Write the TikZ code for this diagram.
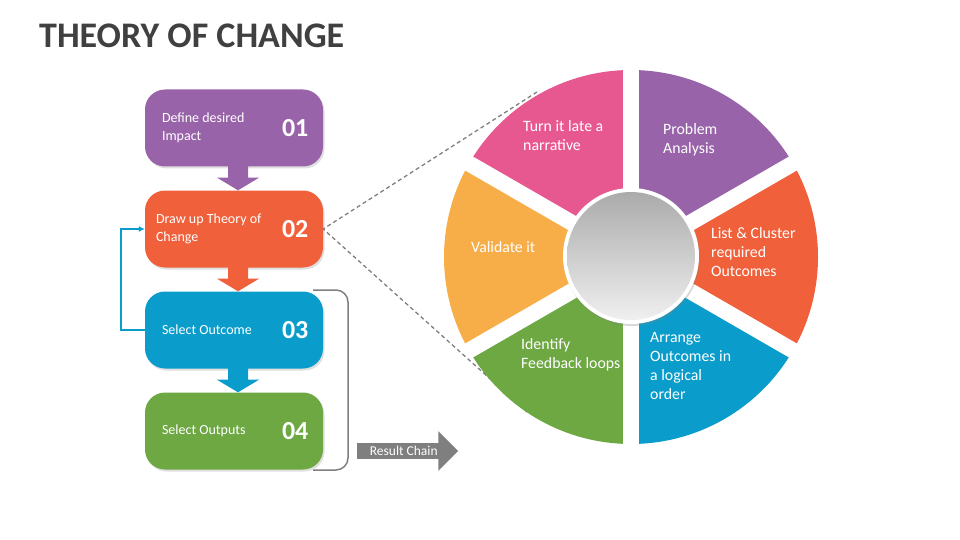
\documentclass[tikz,border=0pt]{standalone}
\usepackage{fontspec}
\setmainfont{Carlito}
\usepackage{tikz}
\usetikzlibrary{
  arrows.meta,
  calc,
  shadows,
  shapes.arrows,
}
\definecolor{tocPurple}{RGB}{152, 99, 168}
\definecolor{tocRed}{RGB}{240, 96, 59}
\definecolor{tocBlue}{RGB}{10, 157, 203}
\definecolor{tocGreen}{RGB}{109, 168, 67}
\definecolor{tocPink}{RGB}{232, 88, 144}
\definecolor{tocOrange}{RGB}{248, 174, 72}
\definecolor{tocGray}{RGB}{127, 127, 127}
\definecolor{tocTitle}{RGB}{64, 64, 64}
\tikzstyle{stepbox} = [
  rectangle,
  rounded corners=20pt,
  minimum width=178pt,
  minimum height=77pt,
  inner sep=0pt,
  drop shadow={opacity=0.25, shadow xshift=1.5pt, shadow yshift=-2pt},
]
\tikzstyle{boxtext} = [
  anchor=west,
  align=left,
  inner sep=0pt,
  text=white,
  font=\fontsize{14}{18}\selectfont,
]
\tikzstyle{boxnum} = [
  inner sep=0pt,
  text=white,
  font=\fontsize{26}{26}\selectfont\bfseries,
]
\tikzstyle{wedgetext} = [
  anchor=west,
  align=left,
  inner sep=0pt,
  text=white,
  font=\fontsize{15.8}{19}\selectfont,
]
\tikzstyle{dashline} = [
  tocGray,
  line width=1.3pt,
  dash pattern=on 4pt off 3pt,
]
\tikzstyle{bracket} = [
  draw=tocGray,
  line width=1.5pt,
  rounded corners=12pt,
]
\tikzstyle{feedback} = [
  -{Latex[length=6pt,width=6pt]},
  draw=tocBlue,
  line width=1.6pt,
]
\tikzstyle{chainarrow} = [
  shape=single arrow,
  single arrow head extend=12pt,
  minimum height=101pt,
  fill=tocGray,
  text=white,
  inner xsep=6pt,
  inner ysep=3pt,
  font=\fontsize{13.5}{13.5}\selectfont,
]

\begin{document}
\begin{tikzpicture}[x=1pt, y=-1pt]
        \useasboundingbox (0,0) rectangle (960,540);

        \node [anchor=base west, inner sep=0pt, text=tocTitle,
               font=\fontsize{36}{36}\selectfont\bfseries] (title) at (39,48) {THEORY OF CHANGE};

        % steps on the left
        \foreach \i/\y/\c in {1/128/tocPurple, 2/229/tocRed, 3/330/tocBlue, 4/431/tocGreen} {
          \node [stepbox, fill=\c] (b\i) at (234,\y) {};
          \node [boxnum] (n\i) at ([xshift=-28pt]b\i.east) {0\i};
        }

        \foreach \a/\b/\c in {b1/b2/tocPurple, b2/b3/tocRed, b3/b4/tocBlue} {
          \fill [\c] ($(\a.south)+(-6,-1)$) -- ($(\a.south)+(-6,11)$) -- ($(\a.south)+(-17,11)$)
                -- ($(\b.north)+(4,0)$)
                -- ($(\a.south)+(25,11)$) -- ($(\a.south)+(14,11)$) -- ($(\a.south)+(14,-1)$) -- cycle;
        }

        \node [boxtext] (t1) at ([xshift=17pt]b1.west) {Define desired\\Impact};
        \node [boxtext] (t2) at ([xshift=11pt]b2.west) {Draw up Theory of\\Change};
        \node [boxtext] (t3) at ([xshift=17pt]b3.west) {Select Outcome};
        \node [boxtext] (t4) at ([xshift=17pt]b4.west) {Select Outputs};

        \draw [feedback] (b3.west) -- ++(-24,0) |- (b2.west);

        \coordinate (brTop) at (313,290);
        \coordinate (brBot) at (313,470);
        \draw [bracket] (brTop) -- (348,290) -- (348,470) -- (brBot);

        \node [chainarrow, anchor=tail] (chain) at (357,451) {Result Chain};

        % dashed zoom lines, behind the wheel
        \coordinate (dTop) at (537,92);
        \coordinate (dBot) at (527,412);
        \draw [dashline] (dTop) -- (b2.east) -- (dBot);

        % the wheel
        \begin{scope}[shift={(631,257)}, yscale=-1]
          \foreach \s/\c in {30/tocPurple, 90/tocPink, 150/tocOrange, 210/tocGreen, 270/tocBlue, 330/tocRed} {
            \fill [\c] (0,0) -- (\s:187) arc [start angle=\s, delta angle=60, radius=187] -- cycle;
          }
          \foreach \a in {30,90,150} {
            \draw [white, line width=16pt] (\a:188) -- (\a+180:188);
          }
        \end{scope}

        \node [circle, fill=white, minimum size=136pt, inner sep=0pt,
               drop shadow={opacity=0.3, shadow xshift=1pt, shadow yshift=-2pt}] (hub) at (631,256) {};
        \shade [top color=black!33, bottom color=black!6] (hub.center) circle [radius=64pt];

        \node [wedgetext] (w1) at (663,140) {Problem\\Analysis};
        \node [wedgetext] (w2) at (711,252) {List \& Cluster\\required\\Outcomes};
        \node [wedgetext] (w3) at (650,366) {Arrange\\Outcomes in\\a logical\\order};
        \node [wedgetext] (w4) at (521,355) {Identify\\Feedback loops};
        \node [wedgetext] (w5) at (471,247) {Validate it};
        \node [wedgetext] (w6) at (523,136) {Turn it late a\\narrative};
      \end{tikzpicture}
\end{document}
